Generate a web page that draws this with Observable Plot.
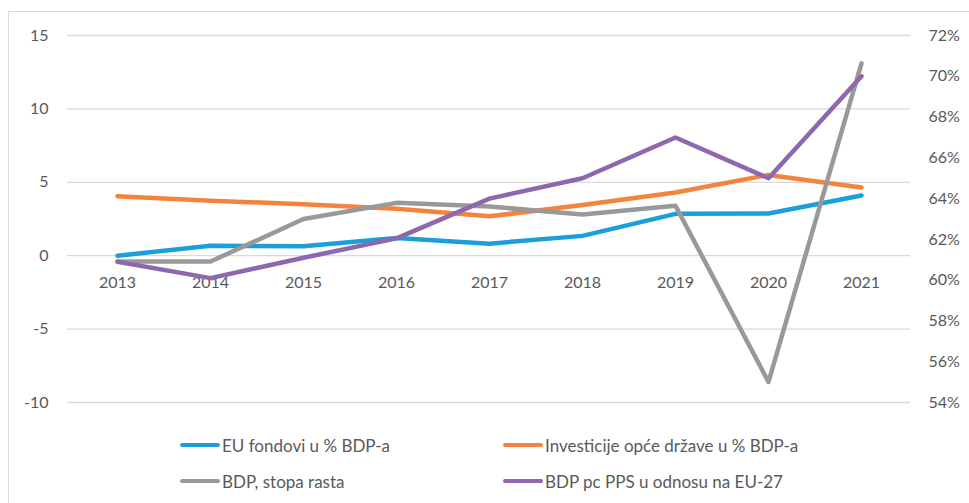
<!DOCTYPE html>
<html>
<head>
<meta charset="utf-8">
<script src="https://cdn.jsdelivr.net/npm/d3@7"></script>
<script src="https://cdn.jsdelivr.net/npm/@observablehq/plot@0.6"></script>
<style>
  html, body { margin: 0; padding: 0; background: #fff; overflow: hidden; }
  #wrap { position: relative; width: 969px; height: 503px; font-family: Lato, "Open Sans", sans-serif; }
  #border { position: absolute; left: 8px; top: 11px; width: 1100px; height: 700px; border-left: 1px solid #d9d9d9; border-top: 1px solid #d9d9d9; }
  #chart { position: absolute; left: 0; top: 0; }
  .leg { position: absolute; display: flex; align-items: center; font-size: 17px; color: #595959; white-space: nowrap; }
  .sw { width: 40px; height: 4px; border-radius: 2px; margin-right: 2px; }
</style>
</head>
<body>
<div id="wrap">
  <div id="border"></div>
  <div id="chart"></div>
  <div id="legend"></div>
</div>
<script>
const years = ["2013","2014","2015","2016","2017","2018","2019","2020","2021"];
const euFunds = [0.0, 0.68, 0.65, 1.2, 0.82, 1.35, 2.85, 2.87, 4.1];
const govInvest = [4.05, 3.75, 3.5, 3.2, 2.68, 3.45, 4.3, 5.5, 4.65];
const gdpGrowth = [-0.4, -0.4, 2.5, 3.6, 3.35, 2.8, 3.4, -8.6, 13.1];
const gdpPcPps = [60.9, 60.1, 61.1, 62.05, 64.0, 65.0, 67.0, 65.0, 70.0];

const leftTicks = [-10, -5, 0, 5, 10, 15];
const rightTicks = [54, 56, 58, 60, 62, 64, 66, 68, 70, 72];

const seriesNames = ["EU fondovi u % BDP-a", "Investicije opće države u % BDP-a", "BDP, stopa rasta", "BDP pc PPS u odnosu na EU-27"];
const colors = ["#1a9fdb", "#f4833d", "#999999", "#8e68ae"];

// secondary axis mapping: 54% -> -10, 72% -> 15
const toLeft = p => -10 + (p - 54) * 25 / 18;
const toRight = v => 54 + (v + 10) * 18 / 25;

const rows = [];
years.forEach((y, i) => {
  rows.push({year: y, v: euFunds[i], s: seriesNames[0]});
  rows.push({year: y, v: govInvest[i], s: seriesNames[1]});
  rows.push({year: y, v: gdpGrowth[i], s: seriesNames[2]});
  rows.push({year: y, v: toLeft(gdpPcPps[i]), s: seriesNames[3]});
});

const textColor = "#595959";

const plot = Plot.plot({
  width: 969,
  height: 503,
  marginLeft: 67,
  marginRight: 59,
  marginTop: 35,
  marginBottom: 101,
  style: {fontFamily: "Lato, 'Open Sans', sans-serif", fontSize: "16px", color: textColor, background: "transparent", overflow: "visible"},
  x: {type: "point", domain: years, padding: 0.5, axis: null},
  y: {domain: [-10, 15], axis: null},
  color: {domain: seriesNames, range: colors},
  marks: [
    Plot.ruleY(leftTicks, {stroke: "#d9d9d9", strokeWidth: 1.3}),
    Plot.axisY(leftTicks, {anchor: "left", tickSize: 0, tickPadding: 19, fontSize: 16, fill: textColor, label: null,
      tickFormat: d => String(d)}),
    Plot.axisY(rightTicks.map(toLeft), {anchor: "right", tickSize: 0, tickPadding: 18, fontSize: 16, fill: textColor, label: null,
      tickFormat: d => Math.round(toRight(d)) + "%"}),
    Plot.text(years, {x: d => d, y: () => 0, dy: 27, text: d => d, fontSize: 16, fill: textColor}),
    Plot.line(rows, {x: "year", y: "v", z: "s", stroke: "s", strokeWidth: 4.5, strokeLinejoin: "round", strokeLinecap: "round"})
  ]
});
document.getElementById("chart").appendChild(plot);

const legendPos = [
  {left: 180, top: 445}, {left: 503, top: 445},
  {left: 180, top: 481}, {left: 503, top: 481}
];
const legend = document.getElementById("legend");
seriesNames.forEach((name, i) => {
  const d = document.createElement("div");
  d.className = "leg";
  d.style.left = legendPos[i].left + "px";
  d.style.top = (legendPos[i].top - 10) + "px";
  d.style.height = "20px";
  const sw = document.createElement("div");
  sw.className = "sw";
  sw.style.background = colors[i];
  const t = document.createElement("span");
  t.textContent = name;
  d.appendChild(sw);
  d.appendChild(t);
  legend.appendChild(d);
});
</script>
</body>
</html>
